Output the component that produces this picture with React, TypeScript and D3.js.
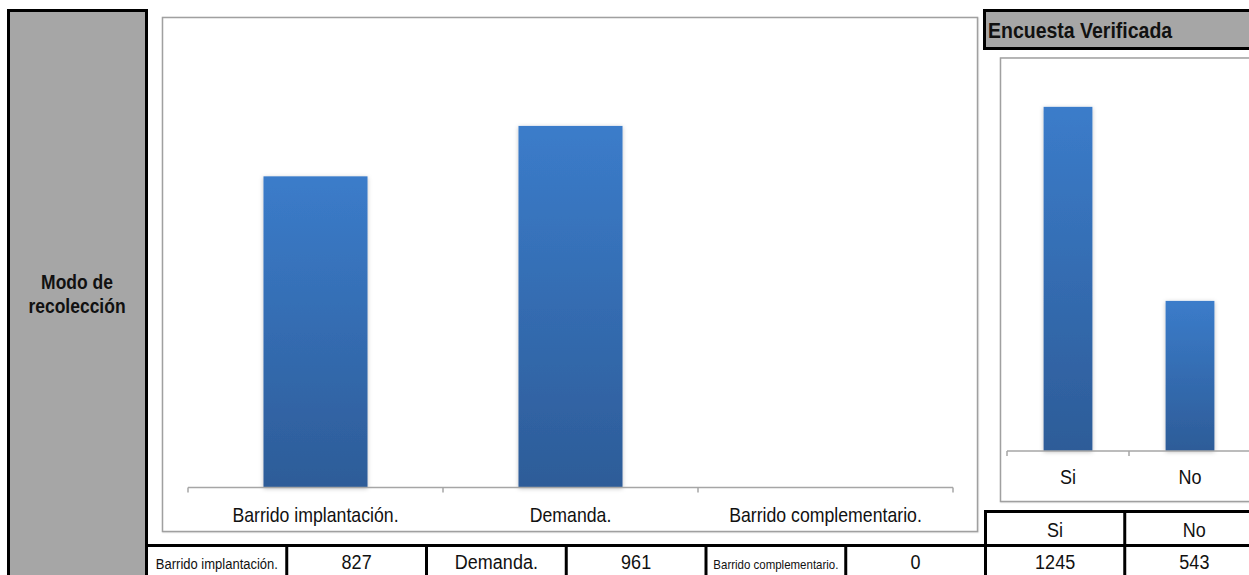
import React from "react";
import * as d3 from "d3";

const modeCategories = ["Barrido implantación.", "Demanda.", "Barrido complementario."];
const modeValues = [827, 961, 0];
const verifiedCategories = ["Si", "No"];
const verifiedValues = [1245, 543];
const sideTitleLines = ["Modo de", "recolección"];
const verifiedTitle = "Encuesta Verificada";

const FONT = "'Liberation Sans', Arial, sans-serif";

type TxtProps = {
  x: number;
  y: number;
  size: number;
  anchor?: "start" | "middle" | "end";
  bold?: boolean;
  sy?: number;
  children: React.ReactNode;
};

function Txt({ x, y, size, anchor = "middle", bold = false, sy = 1.12, children }: TxtProps) {
  return (
    <text
      transform={`translate(${x},${y}) scale(1,${sy})`}
      textAnchor={anchor}
      fontSize={size}
      fontWeight={bold ? "bold" : "normal"}
      fill="#111"
    >
      {children}
    </text>
  );
}

export default function App() {
  const W = 1249;
  const H = 575;

  const xMain = d3.scaleBand<string>().domain(modeCategories).range([188, 953]).padding(0);
  const yMain = d3.scaleLinear().domain([0, 1200]).range([487.5, 36]);
  const barFrac = 0.408;

  const xSmall = d3.scaleBand<string>().domain(verifiedCategories).range([1007, 1251]).padding(0);
  const ySmall = d3.scaleLinear().domain([0, 1400]).range([451, 64]);

  const mainTicks = [...modeCategories.map((c) => xMain(c)!), xMain.range()[1]];
  const smallTicks = [...verifiedCategories.map((c) => xSmall(c)!), xSmall.range()[1]];

  const tableCells: { text: string; size: number }[] = [];
  modeCategories.forEach((c, i) => {
    tableCells.push({ text: c, size: c.length > 22 ? 11.5 : c.length > 12 ? 13 : 18 });
    tableCells.push({ text: String(modeValues[i]), size: 18 });
  });
  const cellX = d3.scaleLinear().domain([0, tableCells.length]).range([147, 985.5]);
  const rightX = d3.scaleLinear().domain([0, verifiedCategories.length]).range([985.5, 1264]);

  return (
    <svg
      width={W}
      height={H}
      style={{ position: "absolute", left: 0, top: 0, display: "block", background: "#fff" }}
      fontFamily={FONT}
    >
      <defs>
        <linearGradient id="barGrad" x1="0" y1="0" x2="0" y2="1">
          <stop offset="0%" stopColor="#3b7cca" />
          <stop offset="100%" stopColor="#2d5c98" />
        </linearGradient>
        <filter id="shadow" x="-20%" y="-5%" width="140%" height="110%">
          <feDropShadow dx="0" dy="1" stdDeviation="2" floodColor="#000" floodOpacity="0.25" />
        </filter>
        <filter id="boxShadow" x="-2%" y="-2%" width="104%" height="104%">
          <feDropShadow dx="0.5" dy="0.5" stdDeviation="0.6" floodColor="#000" floodOpacity="0.2" />
        </filter>
      </defs>

      {/* left gray panel */}
      <rect x={8.5} y={10.5} width={138} height={600} fill="#a6a6a6" stroke="#000" strokeWidth={3} />
      {sideTitleLines.map((l, i) => (
        <Txt key={l} x={77} y={289 + i * 24} size={17.5} bold>
          {l}
        </Txt>
      ))}

      {/* main chart box */}
      <rect x={162.5} y={17.5} width={815} height={514} fill="#fff" stroke="#a0a0a0" strokeWidth={1.5} filter="url(#boxShadow)" />

      {modeCategories.map((c, i) => {
        const bw = xMain.bandwidth() * barFrac;
        const cx = xMain(c)! + xMain.bandwidth() / 2;
        const y0 = yMain(0);
        const y1 = yMain(modeValues[i]);
        if (y0 - y1 <= 0) return null;
        return (
          <rect key={c} x={cx - bw / 2} y={y1} width={bw} height={y0 - y1} fill="url(#barGrad)" filter="url(#shadow)" />
        );
      })}

      <line x1={xMain.range()[0]} x2={xMain.range()[1]} y1={yMain(0)} y2={yMain(0)} stroke="#a6a6a6" strokeWidth={1.5} />
      {mainTicks.map((t, i) => (
        <line key={i} x1={t} x2={t} y1={yMain(0)} y2={yMain(0) + 5} stroke="#a6a6a6" strokeWidth={1.5} />
      ))}
      {modeCategories.map((c) => (
        <Txt key={c} x={xMain(c)! + xMain.bandwidth() / 2} y={522} size={17.7}>
          {c}
        </Txt>
      ))}

      {/* Encuesta Verificada header */}
      <rect x={984.5} y={10.5} width={300} height={38} fill="#a6a6a6" stroke="#000" strokeWidth={3} />
      <Txt x={988} y={38} size={19.5} bold anchor="start">
        {verifiedTitle}
      </Txt>

      {/* small chart box */}
      <rect x={1000.5} y={58} width={300} height={443.5} fill="#fff" stroke="#a0a0a0" strokeWidth={1.5} filter="url(#boxShadow)" />
      {verifiedCategories.map((c, i) => {
        const bw = xSmall.bandwidth() * 0.4;
        const cx = xSmall(c)! + xSmall.bandwidth() / 2;
        const y0 = ySmall(0);
        const y1 = ySmall(verifiedValues[i]);
        return (
          <rect key={c} x={cx - bw / 2} y={y1} width={bw} height={y0 - y1} fill="url(#barGrad)" filter="url(#shadow)" />
        );
      })}
      <line x1={xSmall.range()[0]} x2={xSmall.range()[1]} y1={ySmall(0)} y2={ySmall(0)} stroke="#a6a6a6" strokeWidth={1.5} />
      {smallTicks.map((t, i) => (
        <line key={i} x1={t} x2={t} y1={ySmall(0)} y2={ySmall(0) + 5} stroke="#a6a6a6" strokeWidth={1.5} />
      ))}
      {verifiedCategories.map((c) => (
        <Txt key={c} x={xSmall(c)! + xSmall.bandwidth() / 2} y={484} size={18}>
          {c}
        </Txt>
      ))}

      {/* bottom table */}
      <rect x={148} y={546} width={1110} height={40} fill="#fff" />
      <rect x={986} y={512} width={270} height={34} fill="#fff" />
      <line x1={147} x2={1249} y1={545.5} y2={545.5} stroke="#000" strokeWidth={3} />
      <line x1={984} x2={1249} y1={511.5} y2={511.5} stroke="#000" strokeWidth={3} />
      {tableCells.map((cell, i) => (
        <g key={i}>
          {i > 0 && <line x1={cellX(i)} x2={cellX(i)} y1={545} y2={575} stroke="#000" strokeWidth={3} />}
          <Txt x={(cellX(i) + cellX(i + 1)) / 2} y={569} size={cell.size}>
            {cell.text}
          </Txt>
        </g>
      ))}
      {verifiedCategories.map((c, i) => (
        <g key={c}>
          <line x1={rightX(i)} x2={rightX(i)} y1={510} y2={575} stroke="#000" strokeWidth={3} />
          <Txt x={(rightX(i) + rightX(i + 1)) / 2} y={537} size={18}>
            {c}
          </Txt>
          <Txt x={(rightX(i) + rightX(i + 1)) / 2} y={569} size={18}>
            {verifiedValues[i]}
          </Txt>
        </g>
      ))}
    </svg>
  );
}
